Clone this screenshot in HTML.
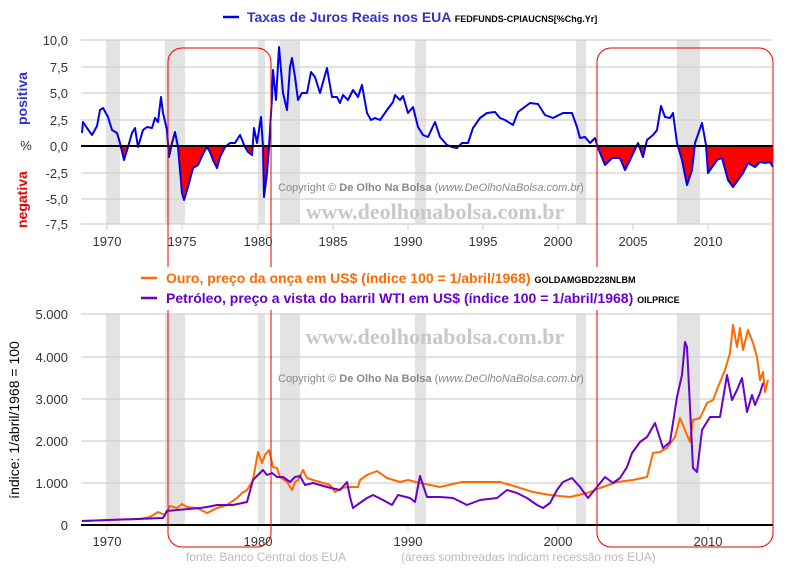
<!DOCTYPE html>
<html><head><meta charset="utf-8"><style>
body{margin:0;background:#fff;width:790px;height:570px;overflow:hidden;font-family:"Liberation Sans",sans-serif}
</style></head><body>
<svg width="790" height="570" xmlns="http://www.w3.org/2000/svg" font-family="Liberation Sans, sans-serif">
<defs>
<clipPath id="neg"><rect x="81" y="146" width="692" height="100"/></clipPath>
</defs>
<g fill="#e3e3e3">
<rect x="106" y="40" width="14" height="184"/><rect x="165" y="40" width="20" height="184"/><rect x="258" y="40" width="7" height="184"/><rect x="280" y="40" width="20" height="184"/><rect x="415" y="40" width="11" height="184"/><rect x="576" y="40" width="10" height="184"/><rect x="677" y="40" width="23" height="184"/>
<rect x="106" y="314" width="14" height="211"/><rect x="165" y="314" width="20" height="211"/><rect x="258" y="314" width="7" height="211"/><rect x="280" y="314" width="20" height="211"/><rect x="415" y="314" width="11" height="211"/><rect x="576" y="314" width="10" height="211"/><rect x="677" y="314" width="23" height="211"/>
</g>
<g stroke="#d0d0d0" stroke-width="1.2">
<line x1="81" x2="772" y1="40" y2="40"/><line x1="81" x2="772" y1="67" y2="67"/><line x1="81" x2="772" y1="93" y2="93"/><line x1="81" x2="772" y1="120" y2="120"/><line x1="81" x2="772" y1="173" y2="173"/><line x1="81" x2="772" y1="199" y2="199"/><line x1="81" x2="772" y1="224" y2="224"/>
<line x1="81" x2="772" y1="314" y2="314"/><line x1="81" x2="772" y1="357" y2="357"/><line x1="81" x2="772" y1="399" y2="399"/><line x1="81" x2="772" y1="441" y2="441"/><line x1="81" x2="772" y1="483" y2="483"/>
</g>
<g stroke="#d0d0d0"><line x1="107" x2="107" y1="224" y2="230"/><line x1="182" x2="182" y1="224" y2="230"/><line x1="258" x2="258" y1="224" y2="230"/><line x1="333" x2="333" y1="224" y2="230"/><line x1="408" x2="408" y1="224" y2="230"/><line x1="483" x2="483" y1="224" y2="230"/><line x1="558" x2="558" y1="224" y2="230"/><line x1="633" x2="633" y1="224" y2="230"/><line x1="708" x2="708" y1="224" y2="230"/>
<line x1="107" x2="107" y1="525" y2="531"/><line x1="258" x2="258" y1="525" y2="531"/><line x1="408" x2="408" y1="525" y2="531"/><line x1="558" x2="558" y1="525" y2="531"/><line x1="708" x2="708" y1="525" y2="531"/></g>
<g fill="#c8c8c8" font-family="Liberation Serif, serif" font-weight="bold" font-size="22" text-anchor="middle">
<text x="435" y="219">www.deolhonabolsa.com.br</text>
<text x="435" y="344">www.deolhonabolsa.com.br</text>
</g>
<g fill="#888" font-size="11">
<text x="278" y="191">Copyright © <tspan font-weight="bold">De Olho Na Bolsa</tspan> (<tspan font-style="italic">www.DeOlhoNaBolsa.com.br</tspan>)</text>
<text x="278" y="382">Copyright © <tspan font-weight="bold">De Olho Na Bolsa</tspan> (<tspan font-style="italic">www.DeOlhoNaBolsa.com.br</tspan>)</text>
</g>
<polyline clip-path="url(#neg)" fill="#ff0000" stroke="none" points="82,146 82,133 83,122 87,128 92,135 97,126 100,110 103,108 108,117 112,130 117,133 120,143 124,160 128,147 132,133 135,128 138,147 143,130 147,127 152,128 155,118 158,122 161,97 163,113 167,130 169,157 172,143 175,132 178,147 182,193 184,200 188,187 193,168 198,165 204,152 207,147 210,152 213,160 217,168 220,157 225,147 230,143 235,143 240,135 245,147 248,152 252,155 254,128 257,143 261,117 263,147 264,197 267,173 269,147 272,97 273,70 276,100 279,47 283,93 287,110 290,67 292,58 295,77 298,100 302,93 307,93 311,72 315,77 320,93 327,68 332,97 337,97 340,103 343,95 348,100 353,90 358,97 362,85 367,113 371,120 375,118 380,120 387,110 393,102 395,95 400,100 403,96 408,113 413,107 418,127 423,135 428,137 435,122 440,137 447,145 452,147 457,148 462,143 468,143 473,128 480,118 487,113 495,112 500,118 505,120 513,125 518,112 530,103 538,104 545,115 553,118 563,113 572,113 577,127 580,138 585,137 590,143 595,138 598,148 605,165 612,158 620,158 625,170 630,160 638,143 643,157 647,140 653,135 657,130 661,106 665,117 670,118 673,113 677,143 682,160 687,185 692,170 695,143 702,123 706,145 708,173 717,160 722,158 728,180 733,187 743,173 748,163 755,167 760,162 765,163 770,162 773,167 773,146"/>
<polyline fill="none" stroke="#0000ee" stroke-width="2" stroke-linejoin="round" points="82,133 83,122 87,128 92,135 97,126 100,110 103,108 108,117 112,130 117,133 120,143 124,160 128,147 132,133 135,128 138,147 143,130 147,127 152,128 155,118 158,122 161,97 163,113 167,130 169,157 172,143 175,132 178,147 182,193 184,200 188,187 193,168 198,165 204,152 207,147 210,152 213,160 217,168 220,157 225,147 230,143 235,143 240,135 245,147 248,152 252,155 254,128 257,143 261,117 263,147 264,197 267,173 269,147 272,97 273,70 276,100 279,47 283,93 287,110 290,67 292,58 295,77 298,100 302,93 307,93 311,72 315,77 320,93 327,68 332,97 337,97 340,103 343,95 348,100 353,90 358,97 362,85 367,113 371,120 375,118 380,120 387,110 393,102 395,95 400,100 403,96 408,113 413,107 418,127 423,135 428,137 435,122 440,137 447,145 452,147 457,148 462,143 468,143 473,128 480,118 487,113 495,112 500,118 505,120 513,125 518,112 530,103 538,104 545,115 553,118 563,113 572,113 577,127 580,138 585,137 590,143 595,138 598,148 605,165 612,158 620,158 625,170 630,160 638,143 643,157 647,140 653,135 657,130 661,106 665,117 670,118 673,113 677,143 682,160 687,185 692,170 695,143 702,123 706,145 708,173 717,160 722,158 728,180 733,187 743,173 748,163 755,167 760,162 765,163 770,162 773,167"/>
<line x1="81" x2="773" y1="146" y2="146" stroke="#000" stroke-width="2"/>
<polyline fill="none" stroke="#ff6a00" stroke-width="2" stroke-linejoin="round" points="82,521 140,519 150,517 158,512 165,515 170,506 177,508 182,504 187,507 197,508 207,513 217,508 227,505 237,498 242,493 247,490 253,480 258,452 262,463 265,455 269,450 273,467 277,468 280,477 287,482 292,490 295,482 298,480 303,470 307,478 313,480 320,482 330,485 335,492 342,488 348,487 358,487 360,480 367,475 377,471 387,478 400,482 408,480 420,483 440,487 462,482 480,482 500,482 517,487 533,492 550,495 570,497 587,493 600,488 617,482 633,480 647,477 653,453 660,452 667,448 675,437 680,418 685,430 690,442 693,420 700,418 707,403 713,400 718,387 725,370 730,353 733,325 737,347 740,328 743,350 748,330 753,343 757,357 760,380 763,372 765,392 768,380"/>
<polyline fill="none" stroke="#6a00cc" stroke-width="2" stroke-linejoin="round" points="82,521 163,518 167,511 177,510 200,508 207,507 217,505 233,505 247,502 253,480 260,473 263,470 267,475 272,473 277,477 283,477 290,482 295,477 300,476 305,485 313,483 327,487 340,490 347,482 350,497 353,508 357,505 367,498 373,495 383,500 392,505 398,495 410,498 415,502 420,476 427,497 440,497 453,498 467,505 480,500 497,498 507,490 517,493 527,498 537,505 543,508 550,503 557,490 563,482 572,478 580,487 588,498 597,487 605,477 613,483 620,478 627,467 632,453 640,442 647,437 655,423 663,448 670,442 677,397 682,375 685,342 687,347 690,407 693,468 697,472 702,430 710,417 720,417 727,375 732,400 737,390 742,378 747,412 752,395 755,405 760,393 763,383"/>
<line x1="81" x2="773" y1="525" y2="525" stroke="#000" stroke-width="2"/>
<rect x="168" y="48" width="103" height="499" rx="14" fill="none" stroke="#e00" stroke-width="1"/>
<rect x="597" y="48" width="176" height="499" rx="14" fill="none" stroke="#e00" stroke-width="1"/>
<rect x="140" y="267" width="562" height="43" fill="#fff"/>
<g font-size="13" fill="#333" text-anchor="end">
<text x="68" y="45">10,0</text><text x="68" y="72">7,5</text><text x="68" y="98">5,0</text><text x="68" y="125">2,5</text><text x="68" y="151">0,0</text><text x="68" y="178">-2,5</text><text x="68" y="204">-5,0</text><text x="68" y="229">-7,5</text>
<text x="68" y="319">5.000</text><text x="68" y="362">4.000</text><text x="68" y="404">3.000</text><text x="68" y="446">2.000</text><text x="68" y="488">1.000</text><text x="68" y="530">0</text>
</g>
<g font-size="13" fill="#333" text-anchor="middle">
<text x="107" y="246">1970</text><text x="182" y="246">1975</text><text x="258" y="246">1980</text><text x="333" y="246">1985</text><text x="408" y="246">1990</text><text x="483" y="246">1995</text><text x="558" y="246">2000</text><text x="633" y="246">2005</text><text x="708" y="246">2010</text>
<text x="107" y="546">1970</text><text x="258" y="546">1980</text><text x="408" y="546">1990</text><text x="558" y="546">2000</text><text x="708" y="546">2010</text>
</g>
<text x="26" y="150" font-size="13" fill="#333" text-anchor="middle">%</text>
<text transform="translate(27,125) rotate(-90)" font-size="14" font-weight="bold" fill="#3333cc">positiva</text>
<text transform="translate(27,228) rotate(-90)" font-size="14" font-weight="bold" fill="#ee0000">negativa</text>
<text transform="translate(19,420) rotate(-90)" font-size="14" fill="#000" text-anchor="middle">índice: 1/abril/1968 = 100</text>
<line x1="223" x2="239" y1="17" y2="17" stroke="#0000ee" stroke-width="2.5"/>
<text x="247" y="22" font-size="14" font-weight="bold" fill="#3333cc">Taxas de Juros Reais nos EUA <tspan font-size="9" fill="#000">FEDFUNDS-CPIAUCNS[%Chg.Yr]</tspan></text>
<line x1="141" x2="157" y1="278" y2="278" stroke="#ff6a00" stroke-width="2.5"/>
<text x="166" y="283" font-size="14" font-weight="bold" fill="#ff6a00">Ouro, preço da onça em US$ (índice 100 = 1/abril/1968) <tspan font-size="9" fill="#000">GOLDAMGBD228NLBM</tspan></text>
<line x1="141" x2="157" y1="298" y2="298" stroke="#6a00cc" stroke-width="2.5"/>
<text x="166" y="303" font-size="14" font-weight="bold" fill="#6a00cc">Petróleo, preço a vista do barril WTI em US$ (índice 100 = 1/abril/1968) <tspan font-size="9" fill="#000">OILPRICE</tspan></text>
<text x="186" y="561" font-size="12" fill="#bbb">fonte:  Banco Central dos EUA</text>
<text x="401" y="561" font-size="12" fill="#bbb">(áreas sombreadas indicam recessão nos EUA)</text>
</svg>
</body></html>
